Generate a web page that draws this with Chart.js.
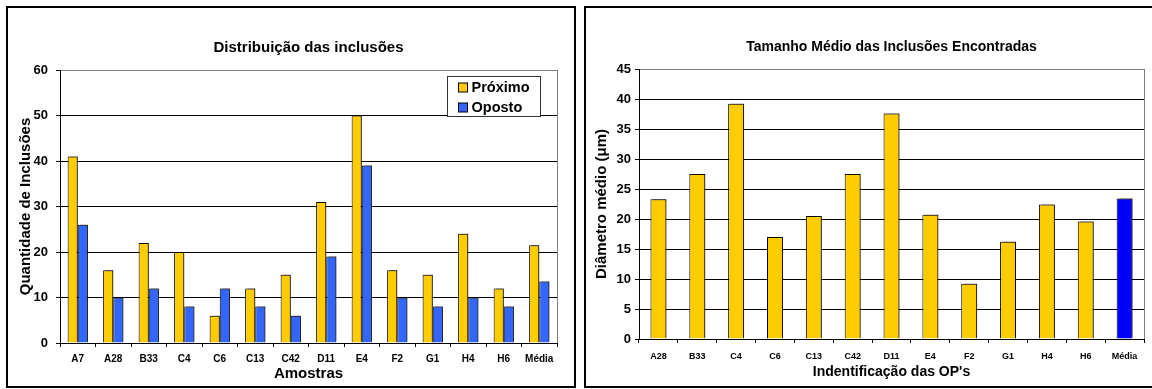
<!DOCTYPE html>
<html>
<head>
<meta charset="utf-8">
<script src="https://cdn.jsdelivr.net/npm/chart.js@4.4.1/dist/chart.umd.min.js"></script>
<style>
  html, body { margin: 0; padding: 0; background: #fff; overflow: hidden; width: 1152px; height: 389px; }
  .caixa { position: absolute; top: 6px; height: 382px; border: 2px solid #000; box-sizing: border-box; background: #fff; }
  #caixa1 { left: 6px; width: 570px; }
  #caixa2 { left: 584px; width: 580px; }
  canvas { display: block; }
</style>
</head>
<body>
<div class="caixa" id="caixa1"><canvas id="distribuicao" width="566" height="378"></canvas></div>
<div class="caixa" id="caixa2"><canvas id="tamanho" width="576" height="378"></canvas></div>
<script>
const amostras = ["A7", "A28", "B33", "C4", "C6", "C13", "C42", "D11", "E4", "F2", "G1", "H4", "H6", "Média"];
const proximo = [41, 16, 22, 20, 6, 12, 15, 31, 50, 16, 15, 24, 12, 21.5];
const oposto = [26, 10, 12, 8, 12, 8, 6, 19, 39, 10, 8, 10, 8, 13.5];

const ops = ["A28", "B33", "C4", "C6", "C13", "C42", "D11", "E4", "F2", "G1", "H4", "H6", "Média"];
const diametro = [23.3, 27.5, 39.2, 17, 20.5, 27.5, 37.6, 20.7, 9.2, 16.2, 22.4, 19.6, 23.4];

const FONTE = "'Liberation Sans', Arial, sans-serif";
const AMARELO = "#FFCC00";
const AZUL = "#3366FF";
const AZUL_MEDIA = "#0000FF";

Chart.defaults.font.family = FONTE;
Chart.defaults.color = "#000";

// sombra cinza dos retangulos (estilo Excel)
const sombra = {
  id: "sombra",
  beforeDatasetsDraw(chart) {
    const ctx = chart.ctx;
    ctx.save();
    ctx.shadowColor = "rgba(0,0,0,0.45)";
    ctx.shadowOffsetX = 2;
    ctx.shadowOffsetY = -1;
    ctx.shadowBlur = 0;
  },
  afterDatasetsDraw(chart) {
    chart.ctx.restore();
  }
};

// borda direita cinza da area de plotagem
const moldura = {
  id: "moldura",
  beforeDatasetsDraw(chart) {
    const { ctx, chartArea } = chart;
    ctx.save();
    ctx.strokeStyle = "#808080";
    ctx.lineWidth = 1;
    ctx.beginPath();
    ctx.moveTo(Math.round(chartArea.right) + 0.5, chartArea.top);
    ctx.lineTo(Math.round(chartArea.right) + 0.5, chartArea.bottom);
    ctx.stroke();
    ctx.restore();
  }
};

// legenda com caixa dentro do grafico
const legenda = {
  id: "legenda",
  afterDraw(chart) {
    const { ctx, chartArea } = chart;
    const x = Math.round(chartArea.right - 110) + 0.5;
    const y = Math.round(chartArea.top + 6) + 0.5;
    const w = 93, h = 40;
    ctx.save();
    ctx.fillStyle = "#fff";
    ctx.fillRect(x, y, w, h);
    ctx.strokeStyle = "#333";
    ctx.lineWidth = 1;
    ctx.strokeRect(x, y, w, h);
    ctx.font = "bold 14.5px " + FONTE;
    ctx.textBaseline = "middle";
    chart.data.datasets.forEach((ds, i) => {
      const cy = y + 10.5 + i * 20;
      ctx.fillStyle = ds.backgroundColor;
      ctx.fillRect(x + 11, Math.round(cy - 4.5), 9, 9);
      ctx.strokeStyle = "#000";
      ctx.strokeRect(x + 11, Math.round(cy - 4.5), 9, 9);
      ctx.fillStyle = "#000";
      ctx.fillText(ds.label, x + 24, cy + 0.5);
    });
    ctx.restore();
  }
};

new Chart(document.getElementById("distribuicao"), {
  type: "bar",
  data: {
    labels: amostras,
    datasets: [
      { label: "Próximo", data: proximo, backgroundColor: AMARELO, borderColor: "#000", borderWidth: 1 },
      { label: "Oposto", data: oposto, backgroundColor: AZUL, borderColor: "#000", borderWidth: 1 }
    ]
  },
  options: {
    responsive: false,
    animation: false,
    layout: { padding: { top: 0, right: 17, bottom: 0, left: 0 } },
    datasets: { bar: { categoryPercentage: 0.57, barPercentage: 1 } },
    plugins: {
      legend: { display: false },
      tooltip: { enabled: false },
      title: {
        display: true,
        text: "Distribuição das inclusões",
        fullSize: false,
        font: { size: 15, weight: "bold" },
        padding: { top: 31, bottom: 13 }
      }
    },
    scales: {
      x: {
        afterFit: s => { s.height = 43; },
        grid: { drawOnChartArea: false, tickLength: 4, color: "#000" },
        border: { color: "#000" },
        ticks: { font: { size: 10, weight: "bold" }, padding: 6, maxRotation: 0, autoSkip: false },
        title: { display: true, text: "Amostras", font: { size: 15, weight: "bold" }, padding: { top: 0, bottom: 3.5 } }
      },
      y: {
        min: 0,
        max: 60,
        afterFit: s => { s.width = 52; },
        grid: {
          color: c => (c.tick && c.tick.value === 60 ? "#808080" : "#000"),
          tickColor: "#000",
          tickLength: 4
        },
        border: { color: "#000" },
        ticks: { stepSize: 10, font: { size: 13, weight: "bold" }, padding: 8 },
        title: { display: true, text: "Quantidade de Inclusões", font: { size: 15, weight: "bold" }, padding: { top: 9, bottom: 0 } }
      }
    }
  },
  plugins: [moldura, sombra, legenda]
});

new Chart(document.getElementById("tamanho"), {
  type: "bar",
  data: {
    labels: ops,
    datasets: [
      {
        label: "Diâmetro médio",
        data: diametro,
        backgroundColor: ops.map(o => (o === "Média" ? AZUL_MEDIA : AMARELO)),
        borderColor: "#000",
        borderWidth: 1
      }
    ]
  },
  options: {
    responsive: false,
    animation: false,
    layout: { padding: { top: 0, right: 18, bottom: 0, left: 0 } },
    datasets: { bar: { categoryPercentage: 0.41, barPercentage: 1 } },
    plugins: {
      legend: { display: false },
      tooltip: { enabled: false },
      title: {
        display: true,
        text: "Tamanho Médio das Inclusões Encontradas",
        fullSize: false,
        font: { size: 14, weight: "bold" },
        padding: { top: 30.6, bottom: 13.6 }
      }
    },
    scales: {
      x: {
        afterFit: s => { s.height = 47; },
        grid: { drawOnChartArea: false, tickLength: 4, color: "#000" },
        border: { color: "#000" },
        ticks: { font: { size: 9, weight: "bold" }, padding: 8, maxRotation: 0, autoSkip: false },
        title: { display: true, text: "Indentificação das OP's", font: { size: 14, weight: "bold" }, padding: { top: 0, bottom: 5.5 } }
      },
      y: {
        min: 0,
        max: 45,
        afterFit: s => { s.width = 53; },
        grid: {
          color: c => (c.tick && c.tick.value === 45 ? "#808080" : "#000"),
          tickColor: "#000",
          tickLength: 4
        },
        border: { color: "#000" },
        ticks: { stepSize: 5, font: { size: 13, weight: "bold" }, padding: 4 },
        title: { display: true, text: "Diâmetro médio (μm)", font: { size: 15, weight: "bold" }, padding: { top: 6.5, bottom: 0 } }
      }
    }
  },
  plugins: [moldura, sombra]
});
</script>
</body>
</html>
